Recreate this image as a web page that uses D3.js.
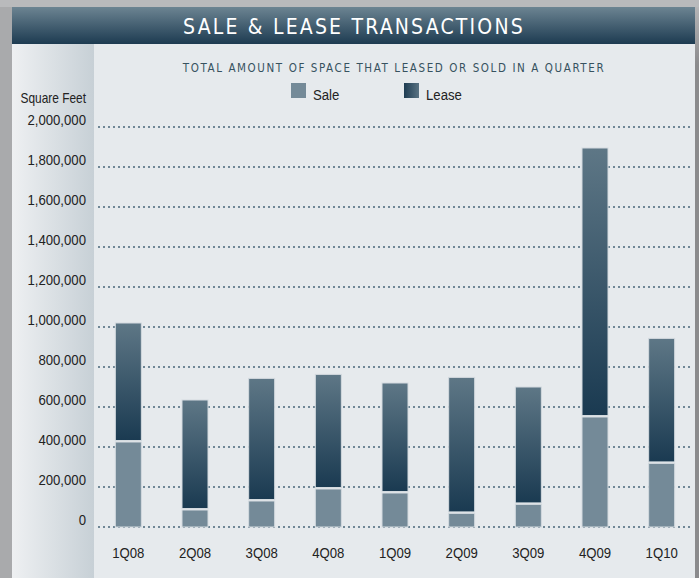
<!DOCTYPE html>
<html>
<head>
<meta charset="utf-8">
<script src="https://cdn.jsdelivr.net/npm/d3@7"></script>
<style>
  html, body { margin: 0; padding: 0; background: #b8b9bb; }
  svg { display: block; }
  text { font-family: "Liberation Sans", Arial, sans-serif; }
  .cond { font-family: "DejaVu Sans Condensed", "Liberation Sans", sans-serif; }
</style>
</head>
<body>
<div id="chart"></div>
<script>
// quarters and the two stacked series (square feet)
var quarters = ["1Q08", "2Q08", "3Q08", "4Q08", "1Q09", "2Q09", "3Q09", "4Q09", "1Q10"];
var sale = [425000, 85000, 130000, 190000, 170000, 68000, 113000, 550000, 318000];
var lease = [595000, 550000, 613000, 573000, 550000, 680000, 587000, 1345000, 625000];
var yTicks = [0, 200000, 400000, 600000, 800000, 1000000, 1200000, 1400000, 1600000, 1800000, 2000000];

var W = 699, H = 578;
var squeeze = 0.85; // narrow the Arial-like font to look condensed

function place(x, y) {
    return "translate(" + x + "," + y + ") scale(" + squeeze + ",1)";
}

var svg = d3.select("#chart").append("svg")
    .attr("width", W)
    .attr("height", H);

var defs = svg.append("defs");

var g1 = defs.append("linearGradient").attr("id", "titleGrad")
    .attr("x1", 0).attr("y1", 0).attr("x2", 0).attr("y2", 1);
g1.append("stop").attr("offset", "0%").attr("stop-color", "#6c8492");
g1.append("stop").attr("offset", "100%").attr("stop-color", "#1d3b51");

var g2 = defs.append("linearGradient").attr("id", "leftGrad")
    .attr("x1", 0).attr("y1", 0).attr("x2", 1).attr("y2", 0);
g2.append("stop").attr("offset", "0%").attr("stop-color", "#eef0f2");
g2.append("stop").attr("offset", "100%").attr("stop-color", "#c7d0d6");

var g3 = defs.append("linearGradient").attr("id", "leaseGrad")
    .attr("x1", 0).attr("y1", 0).attr("x2", 0).attr("y2", 1);
g3.append("stop").attr("offset", "0%").attr("stop-color", "#5e7786");
g3.append("stop").attr("offset", "100%").attr("stop-color", "#1a3a51");

var g4 = defs.append("linearGradient").attr("id", "legendGrad")
    .attr("x1", 0).attr("y1", 0).attr("x2", 1).attr("y2", 0);
g4.append("stop").attr("offset", "0%").attr("stop-color", "#1e3c52");
g4.append("stop").attr("offset", "100%").attr("stop-color", "#5a7383");

var g5 = defs.append("linearGradient").attr("id", "rightGrad")
    .attr("x1", 0).attr("y1", 0).attr("x2", 0).attr("y2", 1);
g5.append("stop").attr("offset", "0%").attr("stop-color", "#b5b5b7");
g5.append("stop").attr("offset", "10%").attr("stop-color", "#8b8b8d");
g5.append("stop").attr("offset", "100%").attr("stop-color", "#8b8b8d");

// frame
svg.append("rect").attr("x", 0).attr("y", 0).attr("width", W).attr("height", H).attr("fill", "#b9babc");
svg.append("rect").attr("x", 0).attr("y", 7).attr("width", 12).attr("height", H).attr("fill", "#a9aaac");
svg.append("rect").attr("x", 695).attr("y", 7).attr("width", 4).attr("height", H).attr("fill", "url(#rightGrad)");

// panel
svg.append("rect").attr("x", 12).attr("y", 44).attr("width", 683).attr("height", H - 44).attr("fill", "#e6eaed");
svg.append("rect").attr("x", 12).attr("y", 44).attr("width", 82).attr("height", H - 44).attr("fill", "url(#leftGrad)");
svg.append("rect").attr("x", 12).attr("y", 7).attr("width", 683).attr("height", 37).attr("fill", "url(#titleGrad)");

svg.append("text")
    .attr("class", "cond")
    .attr("x", 354).attr("y", 34)
    .attr("text-anchor", "middle")
    .attr("fill", "#ffffff")
    .style("font-size", "21px")
    .style("letter-spacing", "2.2px")
    .text("SALE & LEASE TRANSACTIONS");

svg.append("text")
    .attr("class", "cond")
    .attr("x", 394).attr("y", 72)
    .attr("text-anchor", "middle")
    .attr("fill", "#37525f")
    .style("font-size", "11.5px")
    .style("letter-spacing", "1.6px")
    .text("TOTAL AMOUNT OF SPACE THAT LEASED OR SOLD IN A QUARTER");

// legend
var legend = [
    { name: "Sale", fill: "#748a98", x: 291 },
    { name: "Lease", fill: "url(#legendGrad)", x: 404 }
];
var lg = svg.selectAll(".legend").data(legend).enter().append("g").attr("class", "legend");
lg.append("rect")
    .attr("x", function (d) { return d.x; })
    .attr("y", 83)
    .attr("width", 15).attr("height", 15)
    .attr("fill", function (d) { return d.fill; });
lg.append("text")
    .attr("transform", function (d) { return place(d.x + 22, 100); })
    .attr("fill", "#222")
    .style("font-size", "15.5px")
    .text(function (d) { return d.name; });

// scales
var x = d3.scaleBand()
    .domain(quarters)
    .range([95, 695])
    .paddingInner(0.61)
    .paddingOuter(0.305);

var y = d3.scaleLinear()
    .domain([0, 2000000])
    .range([527, 127]);

// y label and ticks
svg.append("text")
    .attr("transform", place(86, 103))
    .attr("text-anchor", "end")
    .attr("fill", "#222")
    .style("font-size", "14px")
    .text("Square Feet");

svg.selectAll(".ylab").data(yTicks).enter().append("text")
    .attr("class", "ylab")
    .attr("transform", function (d) { return place(86, y(d) - 2); })
    .attr("text-anchor", "end")
    .attr("fill", "#222")
    .style("font-size", "15.5px")
    .text(function (d) { return d3.format(",")(d); });

// dotted grid
svg.selectAll(".grid").data(yTicks).enter().append("line")
    .attr("class", "grid")
    .attr("x1", 98).attr("x2", 690)
    .attr("y1", function (d) { return y(d); })
    .attr("y2", function (d) { return y(d); })
    .attr("stroke", "#6f8796")
    .attr("stroke-width", 2)
    .attr("stroke-dasharray", "2,3");

// bars
var rows = quarters.map(function (q, i) {
    return { q: q, sale: sale[i], lease: lease[i] };
});

var bars = svg.selectAll(".bar").data(rows).enter().append("g").attr("class", "bar");

bars.append("rect")
    .attr("x", function (d) { return x(d.q); })
    .attr("width", x.bandwidth())
    .attr("y", function (d) { return y(d.sale); })
    .attr("height", function (d) { return y(0) - y(d.sale); })
    .attr("fill", "#748a98")
    .attr("stroke", "#d3dadf")
    .attr("stroke-width", 1);

bars.append("rect")
    .attr("x", function (d) { return x(d.q); })
    .attr("width", x.bandwidth())
    .attr("y", function (d) { return y(d.sale + d.lease); })
    .attr("height", function (d) { return y(d.sale) - y(d.sale + d.lease) - 1.5; })
    .attr("fill", "url(#leaseGrad)")
    .attr("stroke", "#d3dadf")
    .attr("stroke-width", 1);

// x labels
svg.selectAll(".xlab").data(quarters).enter().append("text")
    .attr("class", "xlab")
    .attr("transform", function (d) { return place(x(d) + x.bandwidth() / 2, 558); })
    .attr("text-anchor", "middle")
    .attr("fill", "#222")
    .style("font-size", "15.5px")
    .text(function (d) { return d; });
</script>
</body>
</html>
